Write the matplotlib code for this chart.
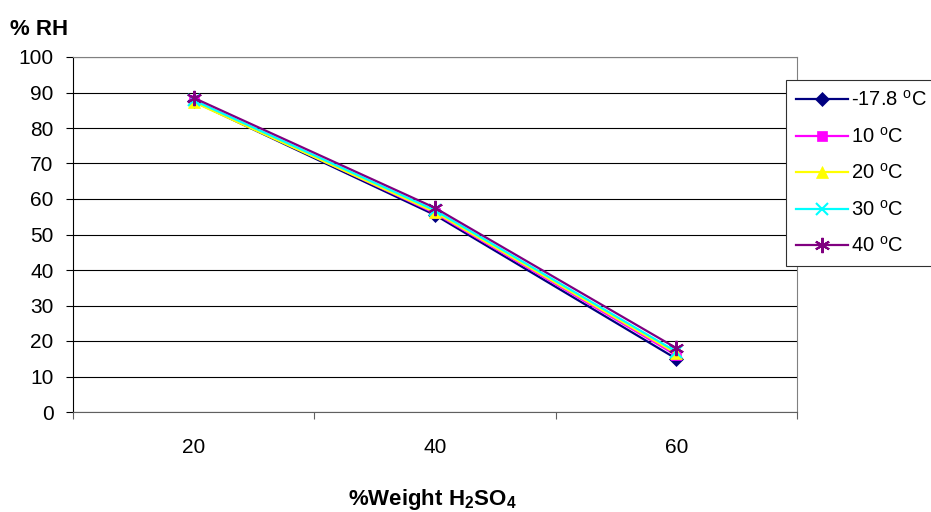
import matplotlib.pyplot as plt
import numpy as np

plt.rcParams['font.family'] = 'Liberation Sans'
plt.rcParams['mathtext.fontset'] = 'custom'
plt.rcParams['mathtext.rm'] = 'Liberation Sans'
plt.rcParams['mathtext.bf'] = 'Liberation Sans:bold'

# data
weights = ['20', '40', '60']
rh_m178 = [87.5, 55.5, 15.0]
rh_10 = [87.8, 56.0, 16.0]
rh_20 = [87.3, 56.3, 16.5]
rh_30 = [87.8, 56.8, 17.0]
rh_40 = [88.5, 57.5, 18.0]

series = [
    (rh_m178, r'-17.8 $^{\rm o}$C', '#000080', 'D', 7),
    (rh_10, r'10 $^{\rm o}$C', '#FF00FF', 's', 7),
    (rh_20, r'20 $^{\rm o}$C', '#FFFF00', '^', 9),
    (rh_30, r'30 $^{\rm o}$C', '#00FFFF', 'x', 9),
    (rh_40, r'40 $^{\rm o}$C', '#800080', (6, 2, 0), 11),
]

fig = plt.figure(figsize=(9.31, 5.12), dpi=100)
ax = fig.add_axes([73/931, 1-412/512, (797-73)/931, (412-57)/512])

x = np.arange(len(weights)) + 0.5
for vals, lab, col, mk, ms in series:
    ax.plot(x, vals, color=col, marker=mk, markersize=ms, linewidth=1.6,
            markeredgewidth=1.5 if mk in ('x', (6, 2, 0)) else 0.5, label=lab)

ax.set_xlim(0, 3)
ax.set_ylim(0, 100)
ax.set_yticks(range(0, 101, 10))
ax.yaxis.grid(True, color='black', linewidth=0.8)
ax.set_axisbelow(True)

ax.set_xticks([0, 1, 2, 3])
ax.set_xticklabels([])
ax.set_xticks(x, minor=True)
ax.set_xticklabels(weights, minor=True)
ax.tick_params(axis='x', which='minor', length=0, pad=19, labelsize=15)
ax.tick_params(axis='x', which='major', length=5, color='#606060', direction='out')
ax.tick_params(axis='y', length=5, pad=9, direction='out', labelsize=15)

ax.spines['top'].set_color('#808080')
ax.spines['right'].set_color('#808080')
ax.spines['left'].set_color('black')
ax.spines['bottom'].set_color('#606060')

fig.text(10/931, 1-35/512, '% RH', fontsize=16, fontweight='bold', va='baseline')
fig.text(432/931, 1-505/512, r'%Weight H$_\mathbf{2}$SO$_\mathbf{4}$',
         fontsize=16, fontweight='bold', ha='center', va='baseline')

leg = fig.legend(loc='upper left', bbox_to_anchor=(786/931, 1-80/512),
                 fontsize=14.5, frameon=True, fancybox=False, edgecolor='#303030',
                 framealpha=1, handlelength=2.6, borderpad=0.5, labelspacing=0.82,
                 handletextpad=0.15, borderaxespad=0)
leg.get_frame().set_linewidth(0.8)

fig.savefig('out.png', dpi=100)
